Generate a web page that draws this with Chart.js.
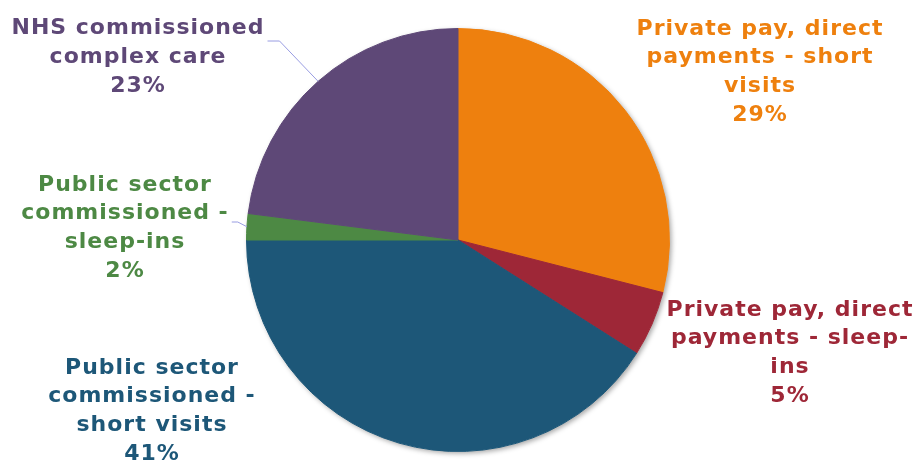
<!DOCTYPE html>
<html lang="en">
<head>
    <meta charset="UTF-8">
    <script src="https://cdn.jsdelivr.net/npm/chart.js"></script>
    <title>Care market share</title>
    <style>
        html, body { margin: 0; padding: 0; background: #fff; }
        #wrap { width: 919px; height: 461px; }
    </style>
</head>
<body>
<div id="wrap"><canvas id="myChart" width="919" height="461"></canvas></div>
<script>
    // segments, clockwise from 12 o'clock
    const categorias = [
        ['Private pay, direct', 'payments - short', 'visits'],
        ['Private pay, direct', 'payments - sleep-', 'ins'],
        ['Public sector', 'commissioned -', 'short visits'],
        ['Public sector', 'commissioned -', 'sleep-ins'],
        ['NHS commissioned', 'complex care']
    ]
    const percentuais = [29, 5, 41, 2, 23]
    const cores = ['#EE800E', '#9E2737', '#1D5778', '#4D8944', '#5E4877']

    // where each label block sits (offset of its centre from the pie centre) and whether it gets a leader line
    const posRotulos = [
        { dx: 302, dy: -168, linha: false },
        { dx: 332, dy: 113, linha: false },
        { dx: -306, dy: 171, linha: false },
        { dx: -333, dy: -12, linha: true, ay: -18, folga: 6 },
        { dx: -320, dy: -183, linha: true, ay: -199, folga: 12 }
    ]

    const fonte = 'bold 22px "DejaVu Sans", Verdana, sans-serif'
    const alturaLinha = 28.8

    const sombraPizza = {
        id: 'sombraPizza',
        beforeDatasetsDraw(chart) {
            const arco = chart.getDatasetMeta(0).data[0]
            const ctx = chart.ctx
            ctx.save()
            ctx.shadowColor = 'rgba(0,0,0,0.35)'
            ctx.shadowBlur = 5
            ctx.shadowOffsetX = 2
            ctx.shadowOffsetY = 2
            ctx.fillStyle = '#ffffff'
            ctx.beginPath()
            ctx.arc(arco.x, arco.y, arco.outerRadius, 0, Math.PI * 2)
            ctx.fill()
            ctx.restore()
        }
    }

    const rotulos = {
        id: 'rotulos',
        afterDatasetsDraw(chart) {
            const ctx = chart.ctx
            const meta = chart.getDatasetMeta(0)
            ctx.save()
            ctx.font = fonte
            ctx.letterSpacing = '1px'
            ctx.textAlign = 'center'
            ctx.textBaseline = 'middle'
            meta.data.forEach(function (arco, i) {
                const p = posRotulos[i]
                const linhas = categorias[i].concat([percentuais[i] + '%'])
                const cx = arco.x + p.dx
                const cy = arco.y + p.dy
                const topo = cy - (linhas.length - 1) * alturaLinha / 2

                if (p.linha) {
                    const meio = (arco.startAngle + arco.endAngle) / 2
                    const px = arco.x + Math.cos(meio) * arco.outerRadius
                    const py = arco.y + Math.sin(meio) * arco.outerRadius
                    const larg = Math.max.apply(null, linhas.map(t => ctx.measureText(t).width))
                    const sx = cx + larg / 2 + 3
                    const sy = arco.y + p.ay
                    ctx.strokeStyle = '#989CE2'
                    ctx.lineWidth = 1
                    ctx.beginPath()
                    ctx.moveTo(sx, sy)
                    ctx.lineTo(sx + p.folga, sy)
                    ctx.lineTo(px, py)
                    ctx.stroke()
                }

                ctx.fillStyle = cores[i]
                linhas.forEach(function (t, j) {
                    ctx.fillText(t, cx, topo + j * alturaLinha)
                })
            })
            ctx.restore()
        }
    }

    const config = {
        type: 'pie',
        data: {
            labels: categorias.map(c => c.join(' ')),
            datasets: [{
                data: percentuais,
                backgroundColor: cores,
                borderColor: cores,
                borderWidth: 1
            }]
        },
        options: {
            responsive: false,
            animation: false,
            layout: { padding: { left: 0, right: 3, top: 28, bottom: 9 } },
            plugins: {
                legend: { display: false },
                tooltip: { enabled: false }
            }
        },
        plugins: [sombraPizza, rotulos]
    }

    var myChart = new Chart(document.getElementById('myChart'), config)
</script>
</body>
</html>
